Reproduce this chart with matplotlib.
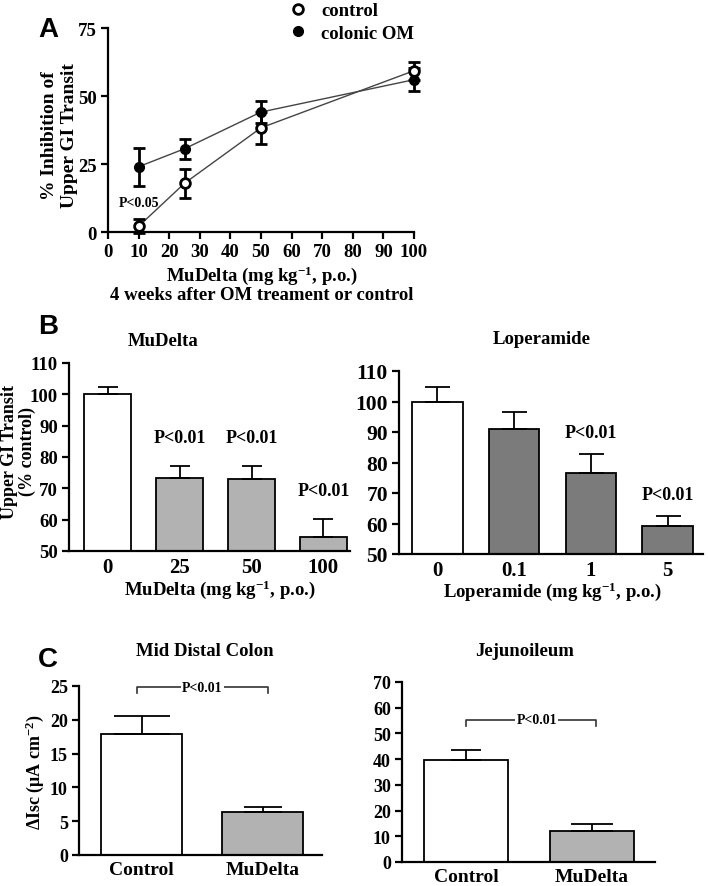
import matplotlib
matplotlib.use('Agg')
import matplotlib.pyplot as plt
from matplotlib.lines import Line2D

plt.rcParams['font.family'] = ['Liberation Serif', 'DejaVu Serif']
plt.rcParams['font.weight'] = 'bold'
plt.rcParams['mathtext.fontset'] = 'custom'
plt.rcParams['mathtext.rm'] = 'Liberation Serif:bold'
plt.rcParams['mathtext.it'] = 'Liberation Serif:bold'
plt.rcParams['mathtext.bf'] = 'Liberation Serif:bold'

# panel A: % inhibition vs dose
doses_a = [10, 25, 50, 100]
control_a = [2.1, 17.9, 38.3, 59.3]
control_err = [2.5, 5.4, 6.0, 3.3]
om_a = [24.0, 30.6, 44.1, 56.0]
om_err = [7.0, 3.6, 4.2, 4.3]

# panel B: upper GI transit
mudelta_doses = ['0', '25', '50', '100']
mudelta_vals = [100, 73.4, 72.9, 54.4]
mudelta_err = [2.2, 3.7, 4.2, 5.9]
lop_doses = ['0', '0.1', '1', '5']
lop_vals = [100, 91.0, 76.7, 59.2]
lop_err = [4.8, 5.7, 6.2, 3.3]

# panel C: delta Isc
groups_c = ['Control', 'MuDelta']
colon_vals = [17.9, 6.4]
colon_err = [2.6, 0.7]
jej_vals = [39.5, 12.0]
jej_err = [3.9, 2.8]

W, H = 708, 887
fig = plt.figure(figsize=(W / 100, H / 100), dpi=100)


def add_ax(l, t, r, b):
    return fig.add_axes([l / W, 1 - b / H, (r - l) / W, (b - t) / H])


def style(ax, fs):
    for s in ['top', 'right']:
        ax.spines[s].set_visible(False)
    for s in ['left', 'bottom']:
        ax.spines[s].set_linewidth(1.6)
    ax.tick_params(width=1.6, length=5, labelsize=fs, direction='out', pad=3)
    for lab in ax.get_xticklabels() + ax.get_yticklabels():
        lab.set_fontweight('bold')


def px(x, y):
    return x / W, 1 - y / H


def vlabel(x, y, s, fs):
    fig.text(*px(x, y), s, rotation=90, ha='center', va='center', fontsize=fs, fontweight='bold')


def up_err(ax, xs, vals, errs, caps):
    for xi, v, e, c in zip(xs, vals, errs, caps):
        ax.errorbar([xi], [v], yerr=[[0], [e]], fmt='none', ecolor='black',
                    elinewidth=1.3, capsize=c, capthick=1.3)


# ---- A ----
axA = add_ax(108, 29, 414, 233)
axA.plot(doses_a, control_a, color='#444444', lw=1, zorder=2)
axA.plot(doses_a, om_a, color='#444444', lw=1, zorder=2)
axA.errorbar(doses_a, om_a, yerr=om_err, fmt='o', color='black', mfc='black',
             ms=7, ecolor='black', elinewidth=2, capsize=4, capthick=2, clip_on=False, zorder=3)
axA.errorbar(doses_a, control_a, yerr=control_err, fmt='o', color='black', mfc='white',
             mew=2, ms=7, ecolor='black', elinewidth=2, capsize=4, capthick=2, clip_on=False, zorder=4)
axA.set_xlim(0, 100)
axA.set_ylim(0, 75)
axA.set_xticks(range(0, 101, 10))
axA.set_yticks([0, 25, 50, 75])
style(axA, 13.5)
vlabel(50, 136, '% Inhibition of', 14)
vlabel(69, 136, 'Upper GI Transit', 14)
fig.text(*px(262, 276), 'MuDelta (mg kg$^{-1}$, p.o.)', ha='center', va='center',
         fontsize=13.5, fontweight='bold')
fig.text(*px(262, 296), '4 weeks after OM treament or control', ha='center', va='center',
         fontsize=13.5, fontweight='bold')
axA.text(10, 11, 'P<0.05', fontsize=10, ha='center', va='center', fontweight='bold')
handles = [Line2D([], [], marker='o', ls='none', color='black', mfc='white', mew=2, ms=7),
           Line2D([], [], marker='o', ls='none', color='black', mfc='black', ms=7)]
fig.legend(handles, ['control', 'colonic OM'], loc='upper left', bbox_to_anchor=px(289, 3),
           frameon=False, handlelength=1.0, handletextpad=0.7, borderpad=0, borderaxespad=0,
           labelspacing=0.3, prop={'weight': 'bold', 'size': 13.5})
fig.text(*px(38, 30), 'A', fontsize=20, fontweight='bold', family='Liberation Sans', va='center')

# ---- B left ----
axB1 = add_ax(69, 364, 350, 552)
x = list(range(len(mudelta_doses)))
colors = ['white'] + ['#b2b2b2'] * 3
axB1.bar(x, mudelta_vals, width=0.65, color=colors, edgecolor='black', lw=1.3)
up_err(axB1, x, mudelta_vals, mudelta_err, [7] * 4)
axB1.set_xlim(-0.54, 3.37)
axB1.set_ylim(50, 110)
axB1.set_xticks(x)
axB1.set_xticklabels(mudelta_doses)
axB1.set_yticks(range(50, 111, 10))
style(axB1, 13.5)
axB1.tick_params(axis='x', length=0, pad=4, labelsize=15)
vlabel(10, 452, 'Upper GI Transit', 13)
vlabel(27, 452, '(% control)', 13)
fig.text(*px(220, 590), 'MuDelta (mg kg$^{-1}$, p.o.)', ha='center', va='center',
         fontsize=13.5, fontweight='bold')
for i in range(1, 4):
    axB1.text(i, mudelta_vals[i] + mudelta_err[i] + 9, 'P<0.01', ha='center', va='center',
              fontsize=13, fontweight='bold')
fig.text(*px(163, 342), 'MuDelta', ha='center', va='center', fontsize=13.5, fontweight='bold')
fig.text(*px(38, 327), 'B', fontsize=20, fontweight='bold', family='Liberation Sans', va='center')

# ---- B right ----
axB2 = add_ax(399, 372, 703, 555)
colors = ['white'] + ['#7b7b7b'] * 3
axB2.bar(x, lop_vals, width=0.66, color=colors, edgecolor='black', lw=1.3)
up_err(axB2, x, lop_vals, lop_err, [9] * 4)
axB2.set_xlim(-0.5, 3.46)
axB2.set_ylim(50, 110)
axB2.set_xticks(x)
axB2.set_xticklabels(lop_doses)
axB2.set_yticks(range(50, 111, 10))
style(axB2, 15.5)
axB2.tick_params(axis='x', length=0, pad=4, labelsize=15)
fig.text(*px(552, 592), 'Loperamide (mg kg$^{-1}$, p.o.)', ha='center', va='center',
         fontsize=13.5, fontweight='bold')
for i in [2, 3]:
    axB2.text(i, lop_vals[i] + lop_err[i] + 7, 'P<0.01', ha='center', va='center',
              fontsize=13, fontweight='bold')
fig.text(*px(542, 340), 'Loperamide', ha='center', va='center', fontsize=13.5, fontweight='bold')

# ---- C left ----
axC1 = add_ax(79, 687, 322, 856)
xc = list(range(len(groups_c)))
axC1.bar(xc, colon_vals, width=0.67, color=['white', '#b2b2b2'], edgecolor='black', lw=1.3)
up_err(axC1, xc, colon_vals, colon_err, [20, 14])
axC1.set_xlim(-0.52, 1.49)
axC1.set_ylim(0, 25)
axC1.set_xticks(xc)
axC1.set_xticklabels(groups_c)
axC1.set_yticks(range(0, 26, 5))
style(axC1, 13)
axC1.tick_params(axis='x', length=0, pad=4, labelsize=14)
vlabel(35, 772, 'ΔIsc (μA cm$^{-2}$)', 13)
axC1.plot([-0.04, -0.04, 1.04, 1.04], [24.0, 24.85, 24.85, 24.0], color='#333333', lw=1.2, clip_on=False)
axC1.text(0.5, 24.85, 'P<0.01', ha='center', va='center', fontsize=10, fontweight='bold',
          bbox=dict(fc='white', ec='none', pad=1))
fig.text(*px(205, 652), 'Mid Distal Colon', ha='center', va='center', fontsize=13.5, fontweight='bold')
fig.text(*px(38, 660), 'C', fontsize=20, fontweight='bold', family='Liberation Sans', va='center')

# ---- C right ----
axC2 = add_ax(402, 683, 655, 863)
axC2.bar(xc, jej_vals, width=0.67, color=['white', '#b2b2b2'], edgecolor='black', lw=1.3)
up_err(axC2, xc, jej_vals, jej_err, [11, 15])
axC2.set_xlim(-0.51, 1.5)
axC2.set_ylim(0, 70)
axC2.set_xticks(xc)
axC2.set_xticklabels(groups_c)
axC2.set_yticks(range(0, 71, 10))
style(axC2, 13)
axC2.tick_params(axis='x', length=0, pad=4, labelsize=14)
axC2.plot([0.0, 0.0, 1.03, 1.03], [52.8, 55.3, 55.3, 52.8], color='#333333', lw=1.2)
axC2.text(0.56, 55.3, 'P<0.01', ha='center', va='center', fontsize=10, fontweight='bold',
          bbox=dict(fc='white', ec='none', pad=1))
fig.text(*px(525, 652), 'Jejunoileum', ha='center', va='center', fontsize=13.5, fontweight='bold')

fig.savefig('out.png', dpi=100)
